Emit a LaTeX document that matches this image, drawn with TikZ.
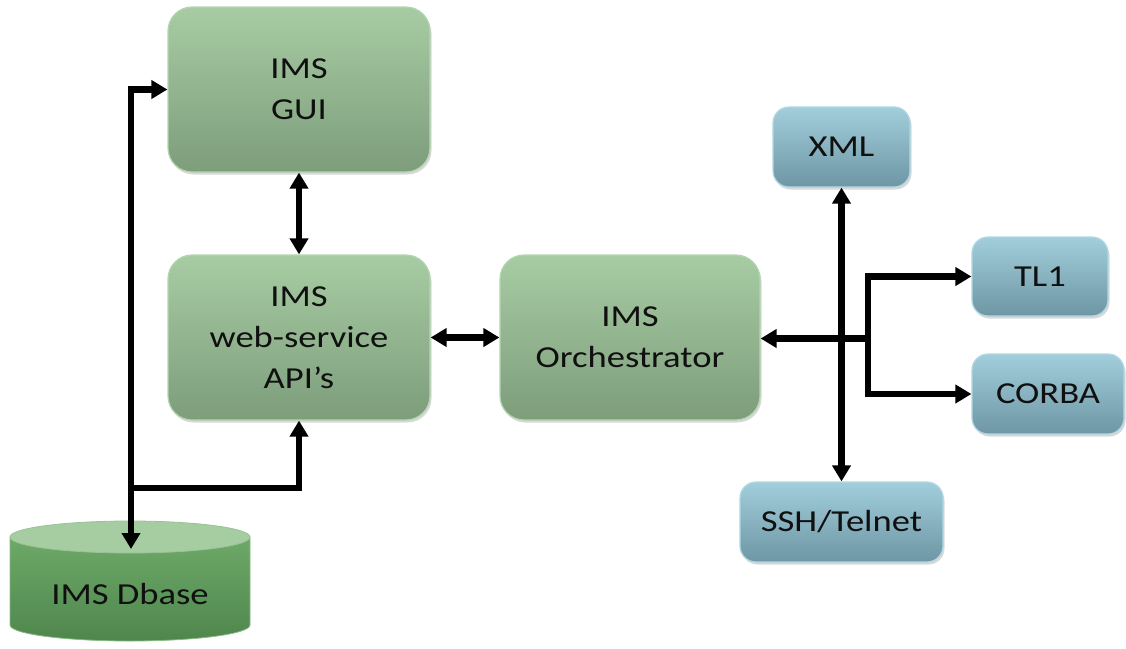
\documentclass[tikz,border=0pt]{standalone}
\usepackage{fontspec}
\usepackage{graphicx}
\setmainfont{Carlito}
\usetikzlibrary{arrows.meta,shadows}
\newcommand\wl[1]{\scalebox{1.2}[1]{#1}}
\definecolor{gtop}{HTML}{A7CCA3}
\definecolor{gbot}{HTML}{7D9D7B}
\definecolor{gedge}{HTML}{B3D6B0}
\definecolor{btop}{HTML}{A2CEDB}
\definecolor{bbot}{HTML}{6E96A4}
\definecolor{bedge}{HTML}{B0D8E4}
\definecolor{dbtopc}{HTML}{A5CDA1}
\definecolor{dbup}{HTML}{6DA968}
\definecolor{dbdown}{HTML}{4F864D}
\definecolor{txt}{HTML}{101010}
\tikzset{
  boxbase/.style={rounded corners=24pt, line width=1.2pt, text=txt, align=center,
    font={\fontsize{30.5}{41}\selectfont},
    drop shadow={opacity=0.3, shadow xshift=1.5pt, shadow yshift=-2.5pt}},
  gbox/.style={boxbase, draw=gedge, top color=gtop, bottom color=gbot},
  bbox/.style={boxbase, rounded corners=16pt, draw=bedge, top color=btop, bottom color=bbot},
  conn/.style={line width=6.5pt, black},
  tipA/.tip={Triangle[length=16pt,width=18pt]},
  one/.style={conn, -tipA},
  two/.style={conn, tipA-tipA}
}
\begin{document}
\begin{tikzpicture}[x=1pt,y=-1pt]
\useasboundingbox (0,0) rectangle (1126,648);
\fill[white] (0,0) rectangle (1126,648);

% green boxes
\node[gbox, minimum width=262pt, minimum height=165pt] (gui) at (299,89.5) {\wl{IMS}\\\wl{GUI}};
\node[gbox, minimum width=262pt, minimum height=165pt] (api) at (299,337.5) {\wl{IMS}\\\wl{web-service}\\\wl{API’s}};
\node[gbox, minimum width=260pt, minimum height=165pt] (orch) at (630,337.5) {\wl{IMS}\\\wl{Orchestrator}};

% blue boxes
\node[bbox, minimum width=137pt, minimum height=80pt] (xml) at (841.5,147) {\wl{XML}};
\node[bbox, minimum width=136pt, minimum height=79pt] (tl1) at (1040,276.5) {\wl{TL1}};
\node[bbox, minimum width=152pt, minimum height=80pt] (corba) at (1048,394) {\wl{CORBA}};
\node[bbox, minimum width=203pt, minimum height=80pt] (ssh) at (841.5,522) {\wl{SSH/Telnet}};

% database cylinder
\shade[top color=dbup, bottom color=dbdown, draw=dbup!80!white, line width=0.8pt]
  (10,537) -- (10,625) arc[start angle=180, end angle=360, x radius=120pt, y radius=16pt]
  -- (250,537) -- cycle;
\fill[dbtopc, draw=dbup!70!white, line width=0.8pt] (130,537) ellipse [x radius=120pt, y radius=16pt];
\node[text=txt, font={\fontsize{30.5}{36}\selectfont}] (db) at (130,594) {\wl{IMS Dbase}};
\coordinate (dbtop) at (131,549);

% connectors
\coordinate (j1) at (131,488);
\coordinate (j2) at (868,338.5);
\draw[two] (gui.west) -| (dbtop);
\draw[conn, -tipA] (j1) -| (api.south);
\draw[two] (gui.south) -- (api.north);
\draw[two] (api.east) -- (orch.west);
\draw[two] (xml.south) -- (ssh.north);
\draw[one] (j2) -- (orch.east |- j2);
\draw[one] (j2) |- (tl1.west);
\draw[one] (j2) |- (corba.west);
\end{tikzpicture}
\end{document}
